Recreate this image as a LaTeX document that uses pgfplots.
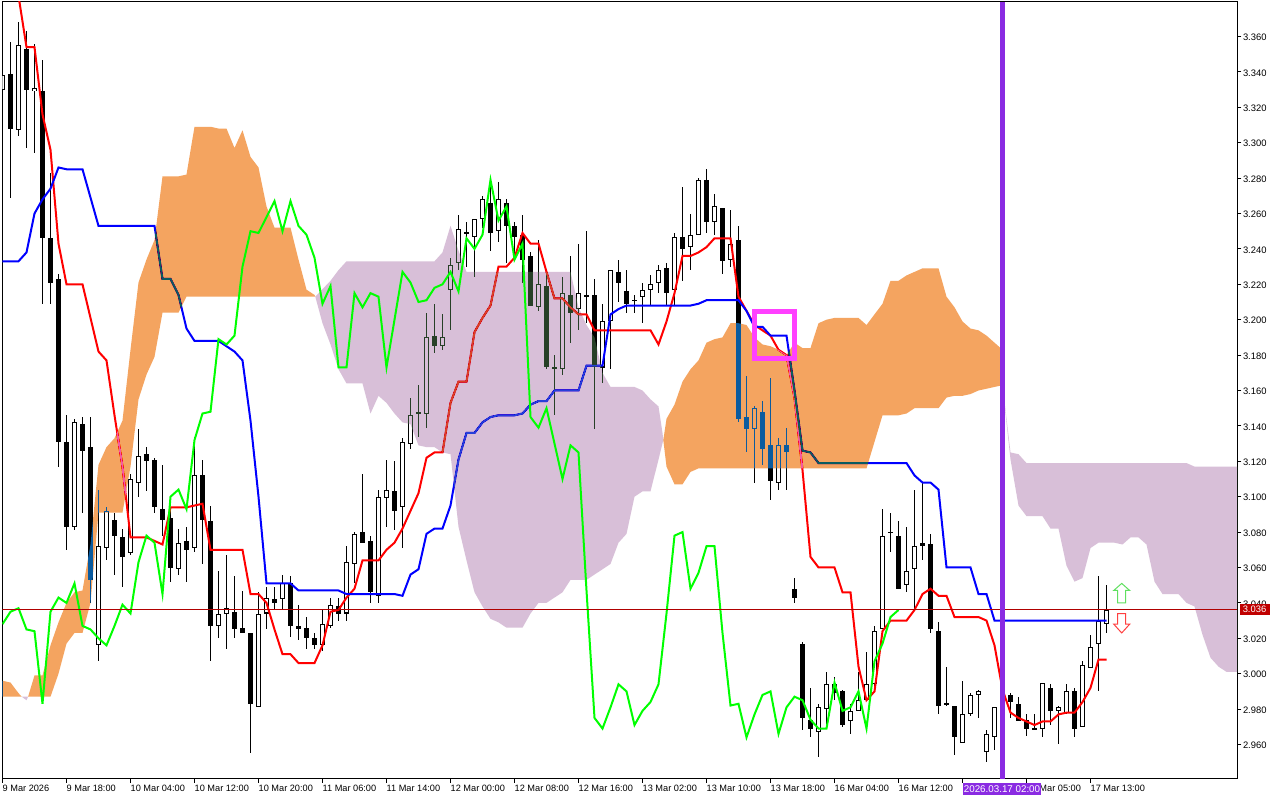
\documentclass[border=0pt]{standalone}
\usepackage{fontspec}
\setmainfont{Liberation Sans}
\usepackage{pgfplots}
\usepackage{pgfplotstable}
\pgfplotsset{compat=1.18}

\definecolor{tenkan}{RGB}{255,0,0}
\definecolor{kijun}{RGB}{0,0,255}
\definecolor{chikou}{RGB}{0,255,0}
% clouds are drawn in difference mode, so these are the inverted
% SandyBrown and Thistle: white gives the cloud colour, black gives this one
\definecolor{xorsandy}{HTML}{0B5B9F}
\definecolor{xorthistle}{HTML}{274027}
\definecolor{bidline}{RGB}{176,0,0}
\definecolor{bidlabel}{RGB}{192,0,0}
\definecolor{vline}{HTML}{8A2BE2}
\definecolor{pinkbox}{HTML}{FF40FF}
\definecolor{arrowup}{HTML}{60E060}
\definecolor{arrowdown}{HTML}{FF4040}

% bar, open, high, low, close
\pgfplotstableread{
i o h l c
0 3.330 3.339 3.327 3.338
1 3.339 3.357 3.269 3.308
2 3.307 3.368 3.304 3.355
3 3.353 3.363 3.297 3.330
4 3.329 3.356 3.294 3.331
5 3.329 3.347 3.209 3.246
6 3.246 3.283 3.209 3.221
7 3.223 3.226 3.117 3.131
8 3.131 3.146 3.070 3.083
9 3.083 3.144 3.081 3.142
10 3.141 3.145 3.091 3.126
11 3.128 3.145 3.040 3.053
12 3.016 3.104 3.007 3.072
13 3.071 3.094 3.064 3.092
14 3.087 3.091 3.056 3.078
15 3.077 3.082 3.049 3.066
16 3.068 3.113 3.067 3.110
17 3.108 3.138 3.100 3.123
18 3.124 3.128 3.103 3.120
19 3.121 3.122 3.091 3.094
20 3.093 3.118 3.078 3.087
21 3.088 3.094 3.052 3.060
22 3.059 3.082 3.056 3.074
23 3.075 3.083 3.052 3.070
24 3.071 3.134 3.069 3.112
25 3.112 3.121 3.062 3.087
26 3.086 3.095 3.007 3.027
27 3.027 3.058 3.020 3.034
28 3.034 3.067 3.014 3.037
29 3.035 3.055 3.020 3.025
30 3.026 3.047 3.023 3.023
31 3.023 3.023 2.955 2.983
32 2.981 3.046 2.981 3.034
33 3.034 3.049 3.025 3.043
34 3.042 3.049 3.036 3.040
35 3.042 3.056 3.036 3.051
36 3.051 3.055 3.021 3.027
37 3.027 3.039 3.019 3.025
38 3.026 3.032 3.014 3.020
39 3.020 3.023 3.014 3.016
40 3.016 3.036 3.013 3.028
41 3.027 3.043 3.026 3.039
42 3.038 3.043 3.030 3.034
43 3.034 3.072 3.030 3.063
44 3.062 3.080 3.051 3.079
45 3.080 3.113 3.074 3.074
46 3.075 3.078 3.040 3.046
47 3.044 3.104 3.040 3.100
48 3.099 3.121 3.083 3.104
49 3.103 3.120 3.081 3.092
50 3.094 3.133 3.071 3.131
51 3.130 3.156 3.127 3.146
52 3.148 3.163 3.134 3.147
53 3.147 3.204 3.139 3.190
54 3.191 3.209 3.181 3.185
55 3.185 3.203 3.183 3.190
56 3.217 3.235 3.194 3.231
57 3.232 3.259 3.228 3.251
58 3.249 3.255 3.230 3.249
59 3.247 3.257 3.224 3.257
60 3.257 3.270 3.252 3.268
61 3.266 3.276 3.239 3.249
62 3.250 3.278 3.244 3.268
63 3.266 3.268 3.232 3.253
64 3.253 3.255 3.236 3.247
65 3.248 3.259 3.221 3.234
66 3.236 3.238 3.208 3.208
67 3.207 3.245 3.205 3.220
68 3.219 3.228 3.172 3.173
69 3.173 3.180 3.146 3.173
70 3.172 3.224 3.169 3.215
71 3.214 3.236 3.187 3.204
72 3.206 3.243 3.194 3.215
73 3.214 3.250 3.198 3.213
74 3.214 3.223 3.138 3.173
75 3.173 3.209 3.164 3.199
76 3.199 3.228 3.172 3.228
77 3.227 3.234 3.210 3.221
78 3.216 3.228 3.204 3.209
79 3.211 3.214 3.204 3.211
80 3.213 3.221 3.198 3.217
81 3.217 3.225 3.208 3.220
82 3.221 3.231 3.215 3.228
83 3.229 3.232 3.208 3.215
84 3.217 3.249 3.208 3.247
85 3.247 3.275 3.222 3.240
86 3.241 3.260 3.228 3.248
87 3.248 3.280 3.248 3.279
88 3.279 3.285 3.249 3.255
89 3.255 3.271 3.248 3.264
90 3.263 3.263 3.226 3.233
91 3.234 3.262 3.230 3.243
92 3.245 3.253 3.142 3.144
93 3.145 3.168 3.125 3.138
94 3.138 3.151 3.108 3.150
95 3.148 3.154 3.118 3.127
96 3.129 3.167 3.098 3.109
97 3.108 3.133 3.104 3.129
98 3.129 3.139 3.104 3.125
99 3.048 3.054 3.040 3.043
100 3.017 3.018 2.968 2.975
101 2.974 2.992 2.964 2.969
102 2.967 2.983 2.953 2.981
103 2.980 3.001 2.969 2.994
104 2.994 2.998 2.985 2.989
105 2.990 2.991 2.970 2.971
106 2.973 2.983 2.966 2.979
107 2.979 3.001 2.979 2.985
108 2.985 3.012 2.985 2.994
109 2.994 3.027 2.993 3.024
110 3.025 3.093 3.025 3.078
111 3.080 3.091 3.069 3.080
112 3.078 3.086 3.048 3.048
113 3.050 3.083 3.046 3.058
114 3.059 3.104 3.036 3.072
115 3.074 3.108 3.064 3.072
116 3.073 3.079 3.023 3.025
117 3.024 3.029 2.977 2.982
118 2.983 3.004 2.982 2.983
119 2.982 2.982 2.954 2.964
120 2.961 2.996 2.961 2.977
121 2.977 2.989 2.976 2.988
122 2.988 2.991 2.975 2.990
123 2.956 2.968 2.950 2.966
124 2.964 2.981 2.957 2.981
125 2.981 2.991 2.978 2.988
126 2.988 2.989 2.975 2.984
127 2.983 2.987 2.973 2.973
128 2.974 2.977 2.965 2.969
129 2.969 2.977 2.968 2.969
130 2.969 2.995 2.964 2.995
131 2.992 2.994 2.971 2.979
132 2.979 2.982 2.960 2.981
133 2.978 2.994 2.977 2.990
134 2.990 2.992 2.964 2.969
135 2.970 3.007 2.970 3.005
136 3.003 3.022 3.003 3.015
137 3.017 3.055 2.990 3.030
138 3.028 3.050 3.023 3.036
}\candles

\begin{document}
\begin{tikzpicture}
\fill[white] (0,0) rectangle (1280pt,800pt);
\path[use as bounding box] (0,0) rectangle (1280pt,800pt);
\begin{axis}[
    at={(2.3pt,21pt)}, anchor=south west,
    scale only axis, width=1235pt, height=777pt,
    xmin=-0.025, xmax=154.35, ymin=2.9405, ymax=3.3795,
    clip mode=individual,
    axis line style={line width=1pt},
    tick align=outside, major tick length=4pt,
    tick style={black, line width=1pt},
    xtick pos=bottom, ytick pos=right, yticklabel pos=right,
    xtick={0,8,...,136},
    % the label at bar 120 lies wholly under the time flag
    xticklabels={9 Mar 2026,9 Mar 18:00,10 Mar 04:00,10 Mar 12:00,10 Mar 20:00,
        11 Mar 06:00,11 Mar 14:00,12 Mar 00:00,12 Mar 08:00,12 Mar 16:00,
        13 Mar 02:00,13 Mar 10:00,13 Mar 18:00,16 Mar 04:00,16 Mar 12:00,
        {},17 Mar 05:00,17 Mar 13:00},
    ytick={2.96,2.98,3.00,3.02,3.04,3.06,3.08,3.10,3.12,3.14,3.16,3.18,3.20,3.22,3.24,3.26,3.28,3.30,3.32,3.34,3.36},
    yticklabel style={/pgf/number format/fixed, /pgf/number format/fixed zerofill,
        /pgf/number format/precision=3, /pgf/number format/assume math mode=true,
        font=\fontsize{9.4}{10}\selectfont, anchor=west, inner xsep=0pt, xshift=1.5pt, yshift=-1pt},
    xticklabel style={font=\fontsize{9.2}{10}\selectfont, anchor=north west, inner sep=0pt, yshift=-1.5pt},
    scaled y ticks=false,
]
% wicks, then bodies, then the white inside of the rising bodies
\addplot[draw=none, mark=none, forget plot, error bars/.cd, y dir=both, y explicit, error mark=none,
    error bar style={draw=black, line width=1pt}]
    table[x=i, y expr={(\thisrow{h}+\thisrow{l})/2}, y error expr={(\thisrow{h}-\thisrow{l})/2}] {\candles};
\addplot[draw=none, mark=none, forget plot, error bars/.cd, y dir=both, y explicit, error mark=none,
    error bar style={draw=black, line width=5pt}]
    table[x=i, y expr={(\thisrow{o}+\thisrow{c})/2}, y error expr={max(abs(\thisrow{o}-\thisrow{c})/2,0.0003)}] {\candles};
\addplot[draw=none, mark=none, forget plot, error bars/.cd, y dir=both, y explicit, error mark=none,
    error bar style={draw=white, line width=3pt}]
    table[x=i, y expr={(\thisrow{o}+\thisrow{c})/2}, y error expr={(\thisrow{c}>\thisrow{o})*max(abs(\thisrow{o}-\thisrow{c})/2-0.00057,0)}] {\candles};

% tenkan-sen
\addplot[tenkan, line width=2pt] coordinates {
(2,3.383)(3,3.354)(4,3.354)(5,3.316)(6,3.296)(7,3.243)(8,3.220)(10,3.220)(11,3.201)(12,3.182)(13,3.177)
(14,3.146)(15,3.117)(16,3.077)(18,3.077)(19,3.075)(20,3.073)(21,3.094)(23,3.094)(24,3.095)(25,3.096)
(26,3.070)(30,3.070)(31,3.045)(32,3.045)(33,3.040)(34,3.025)(35,3.011)(36,3.011)(37,3.006)(39,3.006)
(40,3.016)(41,3.035)(42,3.036)(43,3.043)(44,3.048)(45,3.064)(47,3.064)(48,3.070)(49,3.074)(50,3.082)
(51,3.092)(52,3.102)(53,3.122)(54,3.125)(55,3.125)(56,3.153)(57,3.165)(58,3.165)(59,3.193)(60,3.201)
(61,3.208)(62,3.230)(63,3.230)(64,3.235)(65,3.249)(66,3.243)(67,3.243)(68,3.227)(69,3.212)(70,3.212)
(71,3.207)(72,3.203)(73,3.203)(74,3.194)(81,3.194)(82,3.186)(83,3.199)(84,3.215)(85,3.236)(86,3.236)
(87,3.238)(88,3.241)(89,3.246)(91,3.246)(92,3.213)(93,3.205)(94,3.197)(95,3.194)(96,3.191)(97,3.183)
(98,3.180)(99,3.156)(100,3.115)(101,3.066)(102,3.060)(104,3.060)(105,3.046)(106,3.046)(107,3.004)
(108,2.985)(109,2.990)(110,3.024)(111,3.030)(113,3.030)(114,3.036)(115,3.045)(116,3.048)(117,3.044)
(118,3.044)(119,3.032)(122,3.032)(123,3.030)(124,3.016)(125,2.991)(126,2.978)(127,2.975)(128,2.973)
(129,2.971)(130,2.973)(131,2.973)(132,2.977)(133,2.978)(134,2.978)(135,2.984)(136,2.992)(137,3.008)(138,3.008)
};
% kijun-sen
\addplot[kijun, line width=2pt] coordinates {
(0,3.233)(2,3.233)(3,3.238)(4,3.260)(5,3.268)(6,3.274)(7,3.286)(8,3.285)(10,3.285)(11,3.269)(12,3.253)
(19,3.253)(20,3.223)(21,3.223)(22,3.214)(23,3.195)(24,3.188)(27,3.188)(28,3.185)(29,3.182)(30,3.177)
(31,3.143)(32,3.100)(33,3.051)(36,3.051)(37,3.047)(42,3.047)(43,3.045)(49,3.045)(50,3.044)(51,3.056)
(52,3.059)(53,3.079)(54,3.082)(55,3.082)(56,3.095)(57,3.121)(58,3.136)(59,3.136)(60,3.142)(61,3.145)
(62,3.146)(64,3.146)(65,3.147)(66,3.152)(67,3.154)(68,3.154)(69,3.160)(72,3.160)(73,3.174)(75,3.174)
(76,3.203)(77,3.206)(78,3.208)(86,3.208)(87,3.209)(88,3.211)(92,3.211)(93,3.205)(94,3.196)(95,3.196)
(96,3.191)(98,3.191)(99,3.160)(100,3.126)(101,3.125)(102,3.119)(113,3.119)(114,3.112)(115,3.108)
(116,3.108)(117,3.104)(118,3.060)(121,3.060)(122,3.045)(123,3.045)(124,3.030)(138,3.030)
};

% clouds
\addplot[draw=none, fill=xorsandy, blend mode=difference] coordinates {
(-0.1,2.996)(0,2.996)(1,2.995)(2,2.989)(2.4,2.987)(-0.1,2.987)} -- cycle;
\addplot[draw=none, fill=xorthistle, blend mode=difference] coordinates {
(2.4,2.987)(3,2.985)(3.2,2.987)} -- cycle;
\addplot[draw=none, fill=xorsandy, blend mode=difference] coordinates {
(3.2,2.987)(4,2.999)(5,2.999)(6,3.016)(7,3.029)(8,3.040)(9,3.046)(10,3.047)(11,3.073)(12,3.118)(13,3.128)
(14,3.133)(15,3.143)(16,3.183)(17,3.221)(18,3.234)(19,3.245)(20,3.281)(22,3.281)(23,3.282)(24,3.309)
(26,3.309)(27,3.308)(28,3.308)(29,3.297)(30,3.307)(31,3.292)(32,3.286)(33,3.264)(34,3.252)(36,3.252)
(37,3.234)(38,3.217)(39,3.214)(39.1,3.213)
(23,3.213)(22,3.204)(20,3.204)(19,3.179)(18,3.169)(17,3.155)(16,3.117)(15,3.091)(12,3.091)(11,3.040)
(10,3.023)(9,3.023)(8,3.017)(7,3.000)(6,2.987)} -- cycle;
\addplot[draw=none, fill=xorthistle, blend mode=difference] coordinates {
(39.1,3.213)(41,3.222)(42,3.228)(43,3.233)(54,3.233)(55,3.238)(56,3.253)(57,3.239)(58,3.227)(71,3.227)
(72,3.207)(73,3.197)(74,3.190)(75,3.170)(76,3.162)(79,3.162)(80,3.160)(81,3.155)(82,3.151)(82.5,3.136)(82.6,3.132)
(82,3.121)(81,3.103)(80,3.103)(79,3.100)(78,3.079)(77,3.074)(76,3.062)(75,3.059)(74,3.056)(73,3.053)
(71,3.053)(70,3.046)(69,3.043)(68,3.040)(67,3.040)(66,3.034)(65,3.026)(63,3.026)(62,3.029)(61,3.031)
(60,3.038)(59,3.046)(58,3.064)(57,3.083)(56,3.124)(55,3.125)(54,3.128)(53,3.128)(52,3.129)(51,3.141)
(50,3.142)(49,3.147)(48,3.153)(47,3.157)(46,3.147)(45,3.164)(43,3.164)(42,3.172)(41,3.186)(40,3.198)} -- cycle;
\addplot[draw=none, fill=xorsandy, blend mode=difference] coordinates {
(82.6,3.132)(83,3.144)(84,3.152)(85,3.165)(86,3.172)(87,3.177)(88,3.187)(89,3.189)(90,3.190)(91,3.198)
(92,3.198)(93,3.197)(94,3.190)(95,3.186)(96,3.185)(97,3.183)(98,3.180)(99,3.187)(100,3.184)(101,3.184)
(102,3.198)(103,3.200)(104,3.201)(107,3.201)(108,3.197)(109,3.203)(110,3.209)(111,3.222)(112,3.222)
(113,3.225)(114,3.227)(115,3.229)(117,3.229)(118,3.213)(119,3.207)(120,3.199)(121,3.195)(122,3.194)
(123,3.191)(124,3.187)(125,3.183)
(125,3.163)(124,3.162)(123,3.161)(122,3.160)(121,3.158)(120,3.157)(119,3.157)(118,3.156)(117,3.150)
(114,3.150)(113,3.147)(112,3.146)(110,3.146)(109,3.131)(108,3.116)(87,3.116)(86,3.114)(85,3.107)
(84,3.107)(83,3.117)} -- cycle;
\addplot[draw=none, fill=xorthistle, blend mode=difference] coordinates {
(125,3.163)(126,3.125)(127,3.124)(128,3.119)(148,3.119)(149,3.117)(154.6,3.117)
(154.6,3.001)(153,3.001)(152,3.004)(151,3.009)(150,3.022)(149,3.038)(148,3.040)(147,3.045)(145,3.045)
(144,3.052)(143,3.073)(142,3.077)(141,3.077)(140,3.073)(139,3.074)(137,3.074)(136,3.071)(135,3.054)
(134,3.052)(133,3.061)(132,3.082)(131,3.082)(130,3.089)(128,3.089)(127,3.095)(126,3.121)} -- cycle;

% chikou span, above the clouds
\addplot[chikou, line width=2pt] coordinates {
(0,3.028)(1,3.035)(2,3.037)(3,3.025)(4,3.024)(5,2.983)(6,3.035)(7,3.043)(8,3.040)(9,3.051)(10,3.027)
(11,3.025)(12,3.020)(13,3.016)(14,3.027)(15,3.039)(16,3.034)(17,3.063)(18,3.078)(19,3.074)(20,3.045)
(21,3.100)(22,3.104)(23,3.093)(24,3.132)(25,3.147)(26,3.148)(27,3.189)(28,3.186)(29,3.191)(30,3.230)
(31,3.250)(32,3.249)(33,3.258)(34,3.267)(35,3.250)(36,3.267)(37,3.253)(38,3.248)(39,3.235)(40,3.209)
(41,3.219)(42,3.173)(43,3.173)(44,3.215)(45,3.207)(46,3.215)(47,3.213)(48,3.173)(49,3.200)(50,3.227)
(51,3.221)(52,3.210)(53,3.211)(54,3.218)(55,3.220)(56,3.227)(57,3.216)(58,3.246)(59,3.240)(60,3.248)
(61,3.279)(62,3.256)(63,3.264)(64,3.234)(65,3.243)(66,3.145)(67,3.139)(68,3.150)(69,3.130)(70,3.110)
(71,3.129)(72,3.125)(73,3.047)(74,2.975)(75,2.969)(76,2.981)(77,2.994)(78,2.990)(79,2.971)(80,2.979)
(81,2.984)(82,2.994)(83,3.034)(84,3.078)(85,3.080)(86,3.048)(87,3.057)(88,3.072)(89,3.072)(90,3.023)
(91,2.982)(92,2.983)(93,2.964)(94,2.977)(95,2.988)(96,2.990)(97,2.966)(98,2.981)(99,2.987)(100,2.985)
(101,2.974)(102,2.969)(103,2.969)(104,2.995)(105,2.979)(106,2.981)(107,2.990)(108,2.969)(109,3.007)
(110,3.017)(111,3.032)(112,3.036)
};

% bid line
\addplot[bidline, line width=1pt] coordinates {(-0.025,3.0362)(154.35,3.0362)};
% vertical line at 2026.03.17 02:00
\addplot[vline, line width=5pt] coordinates {(125,2.9405)(125,3.3795)};
% rectangle object
\addplot[pinkbox, line width=5pt, line join=miter] coordinates {(94,3.2044)(99,3.2044)(99,3.1779)(94,3.1779)} -- cycle;
% arrow objects
\addplot[arrowup, fill=white, line width=1pt] coordinates {
(139.9,3.051)(140.9,3.047)(140.4,3.047)(140.4,3.040)(139.4,3.040)(139.4,3.047)(138.9,3.047)} -- cycle;
\addplot[arrowdown, fill=white, line width=1pt] coordinates {
(139.9,3.023)(140.9,3.028)(140.4,3.028)(140.4,3.034)(139.4,3.034)(139.4,3.028)(138.9,3.028)} -- cycle;
\end{axis}
% price and time flags over the tick labels
\node[fill=bidlabel, text=white, minimum width=30pt, minimum height=11pt, inner sep=0pt,
    font=\fontsize{9.4}{10}\selectfont] at (1254.5pt,190.5pt) {3.036};
\node[fill=vline, text=white, minimum width=78pt, minimum height=12pt, inner sep=0pt,
    font=\fontsize{9.8}{10}\selectfont] at (1002pt,11pt) {2026.03.17 02:00};
\end{tikzpicture}
\end{document}
